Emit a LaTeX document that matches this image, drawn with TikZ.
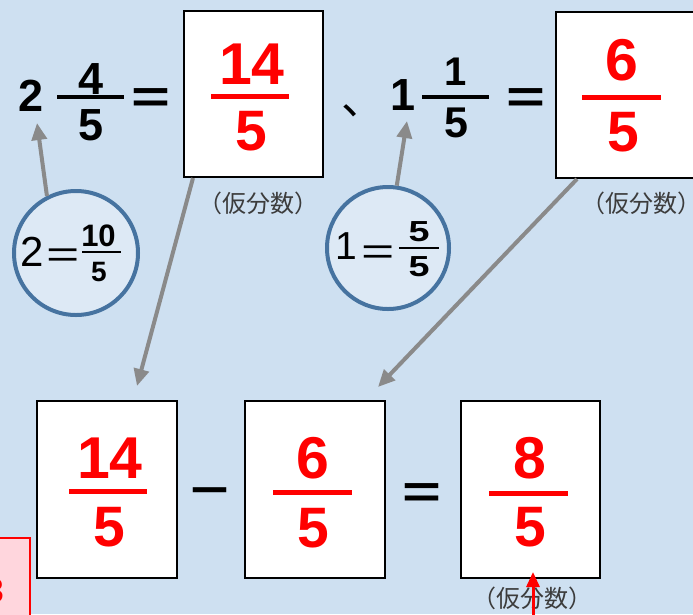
\documentclass[tikz,border=0pt]{standalone}
\usepackage{fontspec}
\setmainfont{Liberation Sans}
\newfontfamily\cjk{Noto Sans CJK JP}
\usetikzlibrary{arrows.meta}
\definecolor{bg}{HTML}{CEE0F1}
\definecolor{cfill}{HTML}{DDE9F5}
\definecolor{cedge}{HTML}{4673A0}
\definecolor{garr}{HTML}{8A8A8A}
\definecolor{notec}{HTML}{3C3C3C}
\definecolor{pinkf}{HTML}{FFD6DD}
\begin{document}
\begin{tikzpicture}[x=1pt,y=-1pt,
  dig/.style={inner sep=0pt, font=\fontsize{#1}{#1}\selectfont\bfseries},
  rdig/.style={dig=#1, text=red},
  thin/.style={inner sep=0pt, font=\fontsize{#1}{#1}\selectfont},
  bar/.style={line width=4pt},
  rbar/.style={line width=5pt, red},
  card/.style={draw=black, line width=2.5pt, fill=white},
  ring/.style={circle, draw=cedge, line width=4pt, fill=cfill, minimum size=120pt, inner sep=0pt},
  garrow/.style={draw=garr, line width=4pt, -{Triangle[length=17pt,width=15pt]}},
  note/.style={inner sep=0pt, text=notec, font=\cjk\fontsize{24}{24}\selectfont}
]
\clip (0,0) rectangle (693,614);
\fill[bg] (0,0) rectangle (693,614);

% pink box at lower left
\draw[red, line width=2pt, fill=pinkf] (-3,538) rectangle (30,620);
\node[rdig=34, anchor=east] (pk) at (4,591) {3};

% ---------- top row ----------
\node[dig=45] (two) at (31,96) {2};
\node[dig=45] (n4) at (91,79) {4};
\draw[bar] (57,97) -- (124,97);
\node[dig=45] (d5a) at (91,125) {5};
\node[dig=46, anchor=base] (eq1) at (151,112) {\scalebox{1.45}[1]{=}};

\node[card, minimum width=139pt, minimum height=166pt] (b1) at (253.5,94) {};
\node[rdig=59] (r14) at (252,64) {14};
\draw[rbar] (211,96) -- (289,96);
\node[rdig=57] (r5a) at (251,131) {5};
\node[note] (nt1) at (258,203) {（仮分数）};

\node[inner sep=0pt, font=\cjk\fontsize{44}{44}\selectfont] (comma) at (363,111) {、};

\node[dig=45] (one) at (403,95) {1};
\node[dig=40] (n1) at (456,72) {1};
\draw[bar] (422,97) -- (489,97);
\node[dig=43] (d5b) at (456,123) {5};
\node[dig=46, anchor=base] (eq2) at (526,112) {\scalebox{1.45}[1]{=}};

\node[card, minimum width=150pt, minimum height=166pt] (b2) at (631,95) {};
\node[rdig=59] (r6) at (622,60) {6};
\draw[rbar] (582,97) -- (661,97);
\node[rdig=57] (r5b) at (623,132) {5};
\node[note] (nt2) at (641,203) {（仮分数）};

% circles
\node[ring, minimum size=124pt] (c1) at (76,253) {};
\node[thin=42] (c1two) at (32.5,252) {2};
\node[thin=38, anchor=base] (c1eq) at (63,267) {\scalebox{1.5}[1]{=}};
\node[dig=31] (c1ten) at (98.5,236) {10};
\draw[line width=2.5pt] (82,252) -- (121,252);
\node[dig=28] (c1five) at (99,272) {5};

\node[ring, minimum size=122pt] (c2) at (388,248) {};
\node[thin=39] (c2one) at (346,246) {1};
\node[thin=38, anchor=base] (c2eq) at (378,264.5) {\scalebox{1.5}[1]{=}};
\node[dig=29] (c2fa) at (419,232) {\scalebox{1.3}[1]{5}};
\draw[line width=2.5pt] (399,248) -- (439,248);
\node[dig=29] (c2fb) at (419,267) {\scalebox{1.3}[1]{5}};

% ---------- bottom row ----------
\node[card, minimum width=140pt, minimum height=177pt] (b3) at (107,489.5) {};
\node[rdig=59] (r14b) at (110,458) {14};
\draw[rbar] (69,491) -- (147,491);
\node[rdig=57] (r5c) at (109,527) {5};

\node[dig=46, anchor=base] (minus) at (210,505) {\scalebox{1.45}[1]{−}};

\node[card, minimum width=140pt, minimum height=177pt] (b4) at (315,489.5) {};
\node[rdig=59] (r6b) at (313,458) {6};
\draw[rbar] (273,492) -- (352,492);
\node[rdig=57] (r5d) at (313,528) {5};

\node[dig=46, anchor=base] (eq3) at (422,507) {\scalebox{1.45}[1]{=}};

\node[card, minimum width=139pt, minimum height=177pt] (b5) at (530.5,489.5) {};
\node[rdig=59] (r8) at (530,458) {8};
\draw[rbar] (489,493) -- (568,493);
\node[rdig=57] (r5e) at (530,527) {5};
\node[note] (nt3) at (532,598) {（仮分数）};

% ---------- connectors ----------
\coordinate (t1) at (37,123);
\coordinate (t2) at (407,121);
\coordinate (s3) at (193,178);
\coordinate (t3) at (137,386);
\coordinate (s4) at (577,179);
\coordinate (t4) at (378,387);
\coordinate (s5) at (533,620);
\coordinate (t5) at (533,572);

\draw[garrow] (c1.117) -- (t1);
\draw[garrow] (c2.82) -- (t2);
\draw[garrow] (s3) -- (t3);
\draw[garrow] (s4) -- (t4);
\draw[red, line width=3pt, -{Triangle[length=15pt,width=13pt]}] (s5) -- (t5);
\end{tikzpicture}
\end{document}
